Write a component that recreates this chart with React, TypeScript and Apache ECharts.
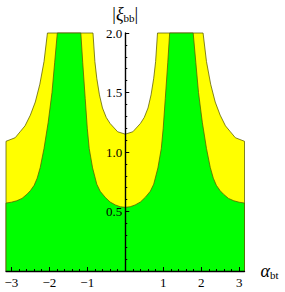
import React, { useEffect, useRef } from 'react';
import * as echarts from 'echarts';

const X_MIN = -3.1416;
const X_MAX = 3.1416;
const Y_MIN = 0;
const Y_MAX = 2;

const xMajorTicks = [-3, -2, -1, 0, 1, 2, 3];
const xLabelTicks = [-3, -2, -1, 1, 2, 3];
const xMinorTicks = [
  -3.0, -2.8, -2.6, -2.4, -2.2, -2.0, -1.8, -1.6, -1.4, -1.2, -1.0, -0.8, -0.6, -0.4, -0.2,
  0.2, 0.4, 0.6, 0.8, 1.0, 1.2, 1.4, 1.6, 1.8, 2.0, 2.2, 2.4, 2.6, 2.8, 3.0,
];
const yMajorTicks = [0.5, 1.0, 1.5, 2.0];
const yMinorTicks = [
  0.1, 0.2, 0.3, 0.4, 0.6, 0.7, 0.8, 0.9, 1.1, 1.2, 1.3, 1.4, 1.6, 1.7, 1.8, 1.9,
];

// Upper boundary of the yellow region (clipped at 2)
const yellowX = [
  -3.1416, -3.1416, -2.9, -2.77, -2.64, -2.5, -2.37, -2.25, -2.14, -2.05, -0.85, -0.8, -0.75, -0.68,
  -0.6, -0.5, -0.4, -0.2, 0, 0.2, 0.4, 0.5, 0.6, 0.68, 0.75, 0.8, 0.85, 2.05, 2.14, 2.25,
  2.37, 2.5, 2.64, 2.77, 2.9, 3.1416, 3.1416,
];
const yellowY = [
  0, 1.09, 1.12, 1.17, 1.22, 1.31, 1.42, 1.57, 1.76, 2.0, 2.0, 1.76, 1.62, 1.48,
  1.37, 1.29, 1.24, 1.17, 1.15, 1.17, 1.24, 1.29, 1.37, 1.48, 1.62, 1.76, 2.0, 2.0, 1.76, 1.57,
  1.42, 1.31, 1.22, 1.17, 1.12, 1.09, 0,
];

// Upper boundary of the green region (clipped at 2)
const greenX = [
  -3.1416, -3.1416, -3.0, -2.86, -2.72, -2.59, -2.5, -2.4, -2.32, -2.24, -2.14, -2.03, -1.93, -1.86,
  -1.79, -1.17, -1.12, -1.055, -1.0, -0.95, -0.86, -0.75, -0.66, -0.53, -0.4, -0.26, -0.13, 0,
  0.13, 0.26, 0.4, 0.53, 0.66, 0.75, 0.86, 0.95, 1.0, 1.055, 1.12, 1.17, 1.79, 1.86, 1.93,
  2.03, 2.14, 2.24, 2.32, 2.4, 2.5, 2.59, 2.72, 2.86, 3.0, 3.1416, 3.1416,
];
const greenY = [
  0, 0.571, 0.578, 0.59, 0.61, 0.645, 0.675, 0.72, 0.78, 0.87, 1.03, 1.25, 1.5, 1.75,
  2.0, 2.0, 1.75, 1.45, 1.2, 1.03, 0.866, 0.73, 0.67, 0.62, 0.58, 0.555, 0.54, 0.535,
  0.54, 0.555, 0.58, 0.62, 0.67, 0.73, 0.866, 1.03, 1.2, 1.45, 1.75, 2.0, 2.0, 1.75, 1.5,
  1.25, 1.03, 0.87, 0.78, 0.72, 0.675, 0.645, 0.61, 0.59, 0.578, 0.571, 0,
];

const FONT = 'Liberation Serif';
const EDGE = 'rgba(90,90,0,0.75)';
const GRID_LEFT = 6;
const GRID_RIGHT = 40.5;
const Y_AXIS_OFFSET = -119.25; // puts the y axis at x = 0

export default function App() {
  const ref = useRef<HTMLDivElement>(null);
  useEffect(() => {
    if (!ref.current) return;
    const chart = echarts.init(ref.current, null, { renderer: 'svg' });
    const yellowData = yellowX.map((x, i) => [x, yellowY[i]]);
    const greenData = greenX.map((x, i) => [x, greenY[i]]);
    const fmtX = (v: number) => (v < 0 ? '\u2212' + Math.abs(v) : String(v));
    chart.setOption({
      animation: false,
      grid: { left: GRID_LEFT, right: GRID_RIGHT, top: 33, bottom: 21, containLabel: false, outerBoundsMode: 'none' },
      xAxis: [
        {
          type: 'value',
          min: X_MIN,
          max: X_MAX,
          position: 'bottom',
          z: 10,
          splitLine: { show: false },
          axisLine: { onZero: false, lineStyle: { color: '#000', width: 1.4 } },
          axisTick: { inside: true, length: 4, customValues: xMajorTicks, lineStyle: { color: '#000', width: 1 } },
          axisLabel: {
            customValues: xLabelTicks,
            formatter: fmtX,
            fontFamily: FONT,
            fontSize: 13,
            color: '#000',
            margin: 5,
          },
          name: '{a|α}{s|bt}',
          nameLocation: 'end',
          nameGap: 16,
          nameTextStyle: {
            rich: {
              a: { fontFamily: FONT, fontStyle: 'italic', fontSize: 18, color: '#000', verticalAlign: 'bottom', lineHeight: 18 },
              s: { fontFamily: FONT, fontSize: 11, color: '#000', verticalAlign: 'bottom', lineHeight: 14 },
            },
          },
        },
        {
          type: 'value',
          min: X_MIN,
          max: X_MAX,
          position: 'bottom',
          z: 10,
          splitLine: { show: false },
          axisLine: { show: false, onZero: false },
          axisTick: { inside: true, length: 2, customValues: xMinorTicks, lineStyle: { color: '#000', width: 1 } },
          axisLabel: { show: false },
        },
      ],
      yAxis: [
        {
          type: 'value',
          min: Y_MIN,
          max: Y_MAX,
          position: 'left',
          offset: Y_AXIS_OFFSET,
          z: 10,
          splitLine: { show: false },
          axisLine: { onZero: false, lineStyle: { color: '#000', width: 1.4 } },
          axisTick: { inside: true, length: 4, customValues: yMajorTicks, lineStyle: { color: '#000', width: 1 } },
          axisLabel: {
            customValues: yMajorTicks,
            formatter: (v: number) => v.toFixed(1),
            fontFamily: FONT,
            fontSize: 13,
            color: '#000',
            margin: 3,
          },
          name: '{b||}{a|ξ}{s|bb}{b||}',
          nameLocation: 'end',
          nameGap: 10,
          nameTextStyle: {
            rich: {
              b: { fontFamily: FONT, fontSize: 18, color: '#000', verticalAlign: 'bottom', lineHeight: 18 },
              a: { fontFamily: FONT, fontStyle: 'italic', fontSize: 18, color: '#000', verticalAlign: 'bottom', lineHeight: 18 },
              s: { fontFamily: FONT, fontSize: 11, color: '#000', verticalAlign: 'bottom', lineHeight: 14 },
            },
          },
        },
        {
          type: 'value',
          min: Y_MIN,
          max: Y_MAX,
          position: 'left',
          offset: Y_AXIS_OFFSET,
          z: 10,
          splitLine: { show: false },
          axisLine: { show: false, onZero: false },
          axisTick: { inside: true, length: 2, customValues: yMinorTicks, lineStyle: { color: '#000', width: 1 } },
          axisLabel: { show: false },
        },
      ],
      series: [
        {
          type: 'line',
          data: yellowData,
          showSymbol: false,
          clip: false,
          z: 2,
          lineStyle: { color: EDGE, width: 1 },
          areaStyle: { color: '#ffff00', opacity: 1 },
        },
        {
          type: 'line',
          data: greenData,
          showSymbol: false,
          clip: false,
          z: 3,
          lineStyle: { color: EDGE, width: 1 },
          areaStyle: { color: '#00ff00', opacity: 1 },
        },
      ],
    });
    return () => chart.dispose();
  }, []);
  return <div ref={ref} style={{ position: 'fixed', left: 0, top: 0, width: 285, height: 292, background: '#fff' }} />;
}
